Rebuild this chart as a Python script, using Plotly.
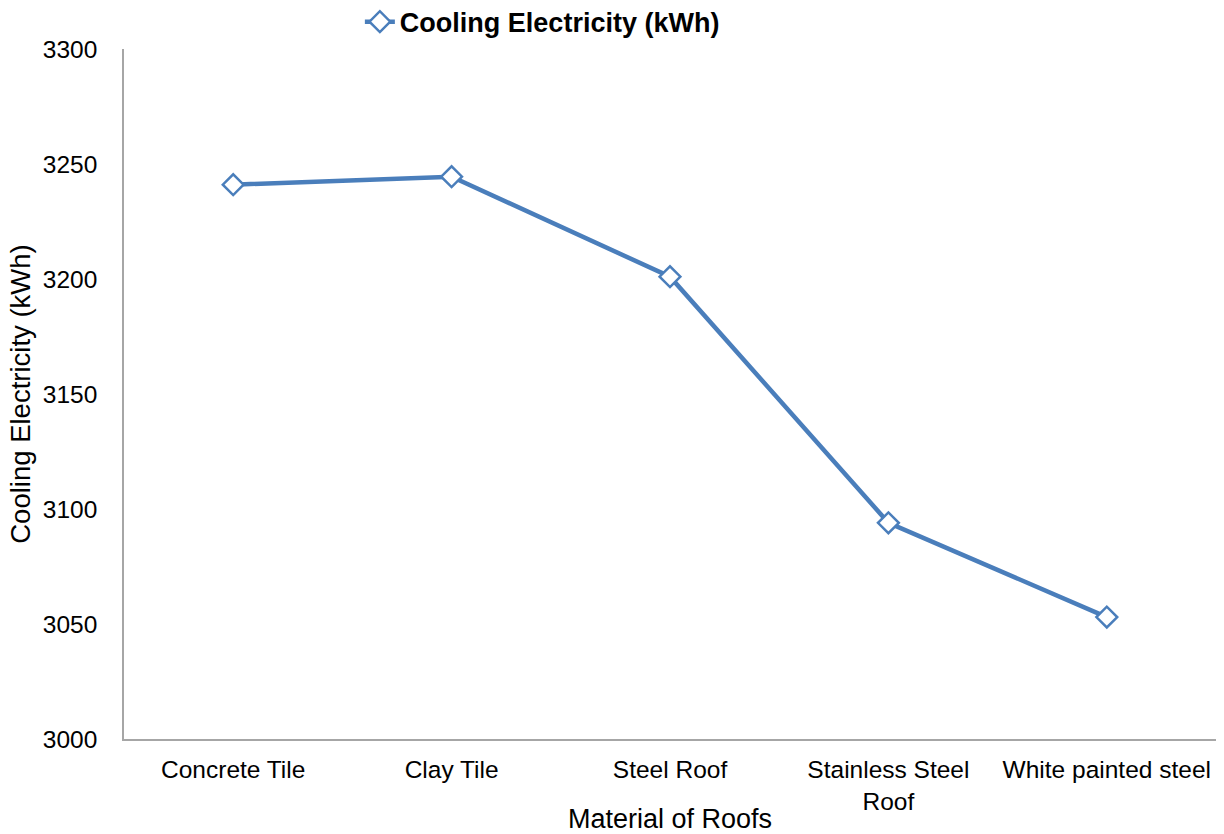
import plotly.graph_objects as go

materials = ["Concrete Tile", "Clay Tile", "Steel Roof", "Stainless Steel<br>Roof", "White painted steel"]
cooling_kwh = [3241, 3244.5, 3201, 3094, 3053]
y_ticks = [3000, 3050, 3100, 3150, 3200, 3250, 3300]

blue = "#4A7EBB"
axis_grey = "#A6A6A6"
font_family = "Liberation Sans, Arial, sans-serif"

fig = go.Figure()
fig.add_trace(go.Scatter(
    x=materials,
    y=cooling_kwh,
    mode="lines+markers",
    name="<b>Cooling Electricity (kWh)</b>",
    line=dict(color=blue, width=4.5),
    marker=dict(symbol="diamond", size=16, color="white",
                line=dict(color=blue, width=2.5)),
))

fig.update_layout(
    width=1224, height=834,
    margin=dict(l=124, r=8, t=49, b=95, autoexpand=False),
    paper_bgcolor="white",
    plot_bgcolor="white",
    font=dict(family=font_family, size=24, color="#000000"),
    showlegend=True,
    legend=dict(
        orientation="h",
        x=0.216, xanchor="left",
        y=1.039, yanchor="middle",
        font=dict(size=27, color="#000000"),
        bgcolor="rgba(0,0,0,0)",
    ),
    xaxis=dict(
        type="category",
        showline=True, linecolor=axis_grey, linewidth=1.5,
        showgrid=False, zeroline=False,
        ticks="", ticklabelstandoff=8,
        tickfont=dict(size=24.5),
        title=dict(text="Material of Roofs", font=dict(size=27), standoff=0),
        range=[-0.5, 4.5],
    ),
    yaxis=dict(
        range=[3000, 3300],
        tickvals=y_ticks,
        showline=True, linecolor=axis_grey, linewidth=1.5,
        showgrid=False, zeroline=False,
        ticks="", ticklabelstandoff=20,
        tickfont=dict(size=24.5),
        title=dict(text="Cooling Electricity (kWh)", font=dict(size=27.5), standoff=4),
    ),
)

fig.write_html("out.html")
